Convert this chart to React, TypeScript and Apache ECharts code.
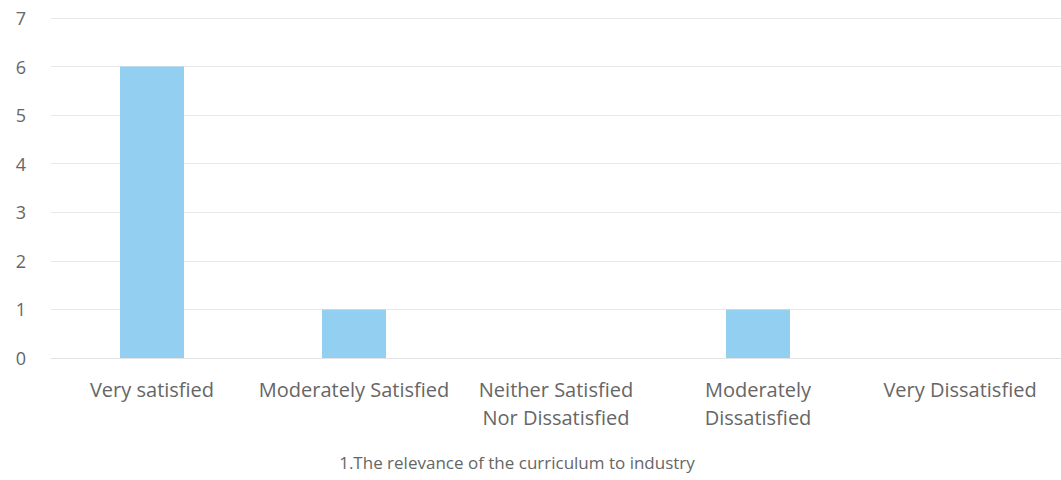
import React, { useEffect, useRef } from "react";
import * as echarts from "echarts";

const categories = [
  "Very satisfied",
  "Moderately Satisfied",
  "Neither Satisfied\nNor Dissatisfied",
  "Moderately\nDissatisfied",
  "Very Dissatisfied",
];
const values = [6, 1, 0, 1, 0];
const axisTitle = "1.The relevance of the curriculum to industry";

export default function App() {
  const ref = useRef<HTMLDivElement>(null);
  useEffect(() => {
    const chart = echarts.init(ref.current!, null, { renderer: "svg" });
    const font = "'Open Sans', 'Noto Sans', sans-serif";
    chart.setOption({
      animation: false,
      backgroundColor: "#ffffff",
      grid: { left: 51, right: 0, top: 18, bottom: 122 },
      xAxis: {
        type: "category",
        data: categories,
        axisTick: { show: false },
        axisLine: { show: true, lineStyle: { color: "#e2e2e2", width: 1 } },
        axisLabel: {
          color: "#666666",
          fontSize: 20,
          fontFamily: font,
          margin: 17,
          lineHeight: 28,
          interval: 0,
        },
      },
      yAxis: {
        type: "value",
        min: 0,
        max: 7,
        interval: 1,
        axisLine: { show: false },
        axisTick: { show: false },
        splitLine: { lineStyle: { color: "#e8e8e8", width: 1 } },
        axisLabel: {
          color: "#666666",
          fontSize: 18,
          fontFamily: font,
          margin: 25,
        },
      },
      graphic: [
        {
          type: "text",
          x: 517,
          y: 462,
          style: {
            text: axisTitle,
            fill: "#666666",
            fontSize: 17,
            fontFamily: font,
            align: "center",
            verticalAlign: "middle",
          },
        },
      ],
      series: [
        {
          type: "bar",
          data: values,
          barWidth: 64,
          itemStyle: { color: "#92cff1" },
        },
      ],
    });
    return () => chart.dispose();
  }, []);
  return <div ref={ref} style={{ width: 1061, height: 480, position: "absolute", left: 0, top: 0 }} />;
}
